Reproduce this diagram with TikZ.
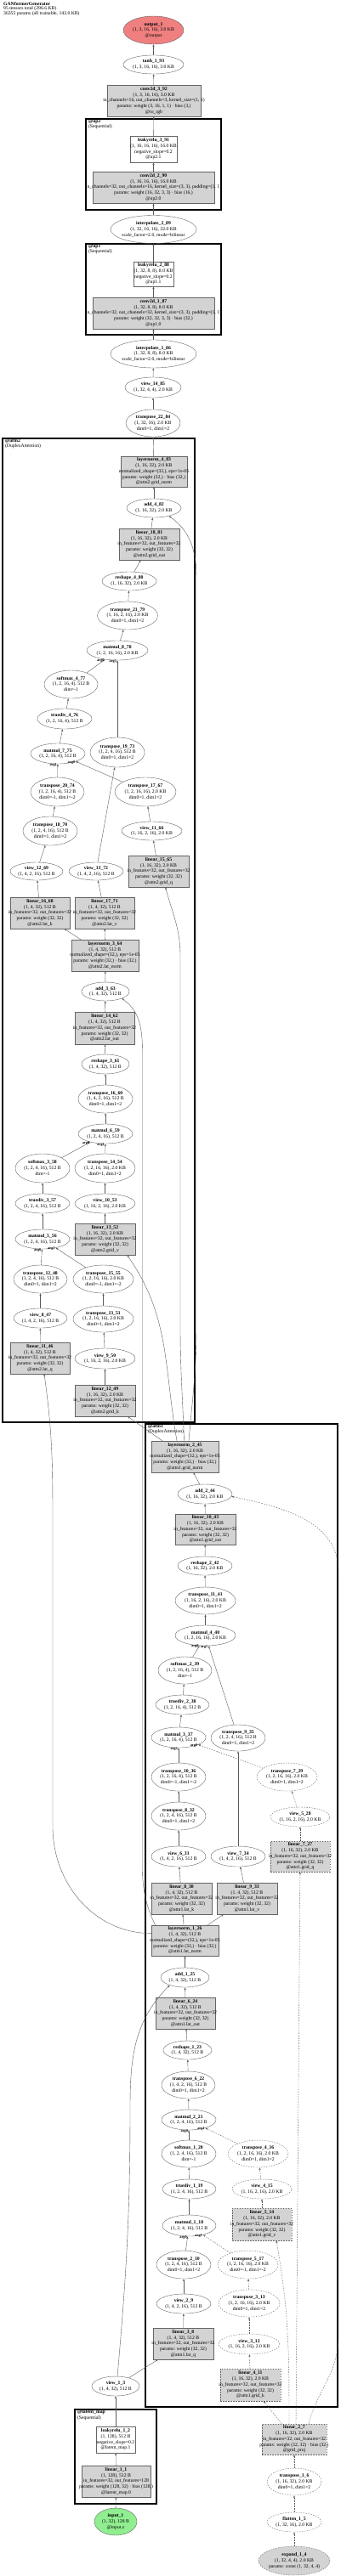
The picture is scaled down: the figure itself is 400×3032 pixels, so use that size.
\documentclass[tikz,border=0pt]{standalone}
\usepackage{fontspec}
\setmainfont{Liberation Serif}
\usetikzlibrary{arrows.meta,shapes.geometric,positioning}
\definecolor{nodegray}{RGB}{211,211,211}
\definecolor{linegray}{RGB}{100,100,100}
\definecolor{edgegray}{RGB}{90,90,90}
\definecolor{outred}{RGB}{240,128,128}
\definecolor{ingreen}{RGB}{144,238,144}
\newcommand{\nodetext}[2]{\makebox[0pt]{\begin{tabular}{@{}c@{}}\textbf{#1}\\#2\end{tabular}}}
\tikzset{
  every node/.style={font=\fontsize{5.7}{6.7}\selectfont, inner sep=0pt},
  sz/.style 2 args={minimum width=#1pt, minimum height=#2pt},
  op/.style={ellipse, draw=linegray, line width=0.4pt},
  mod/.style={rectangle, draw=linegray, fill=nodegray, line width=0.4pt},
  fn/.style={rectangle, draw=linegray, fill=white, line width=0.4pt},
  cst/.style={dash pattern=on 1.5pt off 1.5pt},
  grp/.style={rectangle, draw=black, line width=1.4pt},
  grplbl/.style={anchor=north west, align=left, font=\fontsize{5.7}{5}\selectfont},
  edge/.style={draw=edgegray, line width=0.4pt, -{Stealth[length=3pt,width=2.2pt]}},
  arg/.style={at end, anchor=east, xshift=-0.8pt, yshift=-1pt, font=\fontsize{4.3}{4.3}\selectfont\bfseries},
}
\begin{document}
\begin{tikzpicture}[x=1pt, y=-1pt]
  \useasboundingbox (0,0) rectangle (400,3032);
  \node[grplbl] (title) at (4,2.5) {\textbf{GANformerGenerator}\\95 tensors total (296.6 KB)\\36355 params (all trainable, 142.0 KB)};

  % Module groups
  \node[grp, sz={159}{107}] (up2) at (180.5,193.5) {};
  \node[grp, sz={159}{107}] (up1) at (180.5,340.5) {};
  \node[grp, sz={226}{1158}] (attn2) at (116,1095) {};
  \node[grp, sz={226}{1157}] (attn1) at (284,2254.5) {};
  \node[grp, sz={96}{111}] (latmap) at (136,2891.5) {};
  \node[grplbl] (up2lbl) at ([shift={(3.5pt,-1.5pt)}]up2.north west) {\textbf{@up2}\\(Sequential)};
  \node[grplbl] (up1lbl) at ([shift={(3.5pt,-1.5pt)}]up1.north west) {\textbf{@up1}\\(Sequential)};
  \node[grplbl] (attn2lbl) at ([shift={(3.5pt,-1.5pt)}]attn2.north west) {\textbf{@attn2}\\(DuplexAttention)};
  \node[grplbl] (attn1lbl) at ([shift={(3.5pt,-1.5pt)}]attn1.north west) {\textbf{@attn1}\\(DuplexAttention)};
  \node[grplbl] (latmaplbl) at ([shift={(3.5pt,-1.5pt)}]latmap.north west) {\textbf{@latent\_map}\\(Sequential)};

  % Output head and upsampling
  \node[op, fill=outred, sz={71}{33}] (out1) at (180.5,35.5) {\nodetext{output\_1}{(1, 3, 16, 16), 3.0 KB\\@output}};
  \node[op, sz={71}{22}] (tanh93) at (180.5,76) {\nodetext{tanh\_1\_93}{(1, 3, 16, 16), 3.0 KB}};
  \node[mod, sz={110}{37}] (conv92) at (181,118.5) {\nodetext{conv2d\_3\_92}{(1, 3, 16, 16), 3.0 KB\\in\_channels=16, out\_channels=3, kernel\_size=(1, 1)\\params: weight (3, 16, 1, 1) · bias (3,)\\@to\_rgb}};
  \node[fn, sz={55}{31}] (lrelu91) at (180.5,175.5) {\nodetext{leakyrelu\_3\_91}{(1, 16, 16, 16), 16.0 KB\\negative\_slope=0.2\\@up2.1}};
  \node[mod, sz={143}{37}] (conv90) at (180.5,220.5) {\nodetext{conv2d\_2\_90}{(1, 16, 16, 16), 16.0 KB\\in\_channels=32, out\_channels=16, kernel\_size=(3, 3), padding=(1, 1)\\params: weight (16, 32, 3, 3) · bias (16,)\\@up2.0}};
  \node[op, sz={101}{33}] (interp89) at (180.5,270) {\nodetext{interpolate\_2\_89}{(1, 32, 16, 16), 32.0 KB\\scale\_factor=2.0, mode=bilinear}};
  \node[fn, sz={47}{29}] (lrelu88) at (180.5,322.5) {\nodetext{leakyrelu\_2\_88}{(1, 32, 8, 8), 8.0 KB\\negative\_slope=0.2\\@up1.1}};
  \node[mod, sz={143}{37}] (conv87) at (180.5,368.5) {\nodetext{conv2d\_1\_87}{(1, 32, 8, 8), 8.0 KB\\in\_channels=32, out\_channels=32, kernel\_size=(3, 3), padding=(1, 1)\\params: weight (32, 32, 3, 3) · bias (32,)\\@up1.0}};
  \node[op, sz={101}{33}] (interp86) at (180.5,416.5) {\nodetext{interpolate\_1\_86}{(1, 32, 8, 8), 8.0 KB\\scale\_factor=2.0, mode=bilinear}};
  \node[op, sz={66}{24}] (view85) at (180,456) {\nodetext{view\_14\_85}{(1, 32, 4, 4), 2.0 KB}};
  \node[op, sz={64}{32}] (tr84) at (180,498) {\nodetext{transpose\_22\_84}{(1, 32, 16), 2.0 KB\\dim0=1, dim1=2}};

  % attn2
  \node[mod, sz={78}{36}] (ln83) at (181,555) {\nodetext{layernorm\_4\_83}{(1, 16, 32), 2.0 KB\\normalized\_shape=(32,), eps=1e-05\\params: weight (32,) · bias (32,)\\@attn2.grid\_norm}};
  \node[op, sz={64}{22}] (add82) at (181,598) {\nodetext{add\_4\_82}{(1, 16, 32), 2.0 KB}};
  \node[mod, sz={71}{37}] (lin81) at (175.5,640.5) {\nodetext{linear\_18\_81}{(1, 16, 32), 2.0 KB\\in\_features=32, out\_features=32\\params: weight (32, 32)\\@attn2.grid\_out}};
  \node[op, sz={64}{22}] (resh80) at (152,684) {\nodetext{reshape\_4\_80}{(1, 16, 32), 2.0 KB}};
  \node[op, sz={71}{33}] (tr79) at (150,724.5) {\nodetext{transpose\_21\_79}{(1, 16, 2, 16), 2.0 KB\\dim0=1, dim1=2}};
  \node[op, sz={72}{23}] (mm78) at (138,765.5) {\nodetext{matmul\_8\_78}{(1, 2, 16, 16), 2.0 KB}};
  \node[op, sz={63}{33}] (smax77) at (83.5,805.5) {\nodetext{softmax\_4\_77}{(1, 2, 16, 4), 512 B\\dim=-1}};
  \node[op, sz={64}{24}] (div76) at (76,846) {\nodetext{truediv\_4\_76}{(1, 2, 16, 4), 512 B}};
  \node[op, sz={64}{24}] (mm75) at (68,887) {\nodetext{matmul\_7\_75}{(1, 2, 16, 4), 512 B}};
  \node[op, sz={64}{35}] (tr73) at (138,885.5) {\nodetext{transpose\_19\_73}{(1, 2, 4, 16), 512 B\\dim0=1, dim1=2}};
  \node[op, sz={63}{34}] (tr74) at (67.5,932) {\nodetext{transpose\_20\_74}{(1, 2, 16, 4), 512 B\\dim0=-1, dim1=-2}};
  \node[op, sz={72}{34}] (tr67) at (171,932) {\nodetext{transpose\_17\_67}{(1, 2, 16, 16), 2.0 KB\\dim0=1, dim1=2}};
  \node[op, sz={64}{34}] (tr70) at (59,978) {\nodetext{transpose\_18\_70}{(1, 2, 4, 16), 512 B\\dim0=1, dim1=2}};
  \node[op, sz={71}{22}] (view66) at (178.5,978) {\nodetext{view\_11\_66}{(1, 16, 2, 16), 2.0 KB}};
  \node[mod, sz={71}{37}] (lin65) at (186.5,1025.5) {\nodetext{linear\_15\_65}{(1, 16, 32), 2.0 KB\\in\_features=32, out\_features=32\\params: weight (32, 32)\\@attn2.grid\_q}};
  \node[op, sz={62}{21}] (view69) at (43,1025.5) {\nodetext{view\_12\_69}{(1, 4, 2, 16), 512 B}};
  \node[op, sz={64}{21}] (view72) at (113,1025.5) {\nodetext{view\_13\_72}{(1, 4, 2, 16), 512 B}};
  \node[mod, sz={70}{37}] (lin68) at (47,1074.5) {\nodetext{linear\_16\_68}{(1, 4, 32), 512 B\\in\_features=32, out\_features=32\\params: weight (32, 32)\\@attn2.lat\_k}};
  \node[mod, sz={70}{37}] (lin71) at (123,1074.5) {\nodetext{linear\_17\_71}{(1, 4, 32), 512 B\\in\_features=32, out\_features=32\\params: weight (32, 32)\\@attn2.lat\_v}};
  \node[mod, sz={79}{37}] (ln64) at (123.5,1124.5) {\nodetext{layernorm\_3\_64}{(1, 4, 32), 512 B\\normalized\_shape=(32,), eps=1e-05\\params: weight (32,) · bias (32,)\\@attn2.lat\_norm}};
  \node[op, sz={56}{22}] (add63) at (124,1167) {\nodetext{add\_3\_63}{(1, 4, 32), 512 B}};
  \node[mod, sz={70}{38}] (lin62) at (123,1210) {\nodetext{linear\_14\_62}{(1, 4, 32), 512 B\\in\_features=32, out\_features=32\\params: weight (32, 32)\\@attn2.lat\_out}};
  \node[op, sz={56}{23}] (resh61) at (124,1252.5) {\nodetext{reshape\_3\_61}{(1, 4, 32), 512 B}};
  \node[op, sz={64}{33}] (tr60) at (124,1293.5) {\nodetext{transpose\_16\_60}{(1, 4, 2, 16), 512 B\\dim0=1, dim1=2}};
  \node[op, sz={64}{23}] (mm59) at (124,1334.5) {\nodetext{matmul\_6\_59}{(1, 2, 4, 16), 512 B}};
  \node[op, sz={64}{34}] (smax58) at (50,1375) {\nodetext{softmax\_3\_58}{(1, 2, 4, 16), 512 B\\dim=-1}};
  \node[op, sz={71}{34}] (tr54) at (123.5,1375) {\nodetext{transpose\_14\_54}{(1, 2, 16, 16), 2.0 KB\\dim0=1, dim1=2}};
  \node[op, sz={64}{23}] (div57) at (50,1416.5) {\nodetext{truediv\_3\_57}{(1, 2, 4, 16), 512 B}};
  \node[op, sz={71}{23}] (view53) at (123.5,1416.5) {\nodetext{view\_10\_53}{(1, 16, 2, 16), 2.0 KB}};
  \node[op, sz={64}{23}] (mm56) at (50,1458.5) {\nodetext{matmul\_5\_56}{(1, 2, 4, 16), 512 B}};
  \node[mod, sz={71}{37}] (lin52) at (123.5,1458.5) {\nodetext{linear\_13\_52}{(1, 16, 32), 2.0 KB\\in\_features=32, out\_features=32\\params: weight (32, 32)\\@attn2.grid\_v}};
  \node[op, sz={63}{33}] (tr48) at (47.5,1505.5) {\nodetext{transpose\_12\_48}{(1, 2, 4, 16), 512 B\\dim0=1, dim1=2}};
  \node[op, sz={71}{33}] (tr55) at (121.5,1505.5) {\nodetext{transpose\_15\_55}{(1, 2, 16, 16), 2.0 KB\\dim0=-1, dim1=-2}};
  \node[op, sz={63}{23}] (view47) at (47.5,1551.5) {\nodetext{view\_8\_47}{(1, 4, 2, 16), 512 B}};
  \node[op, sz={71}{31}] (tr51) at (121.5,1552.5) {\nodetext{transpose\_13\_51}{(1, 2, 16, 16), 2.0 KB\\dim0=1, dim1=2}};
  \node[mod, sz={70}{37}] (lin46) at (47,1598.5) {\nodetext{linear\_11\_46}{(1, 4, 32), 512 B\\in\_features=32, out\_features=32\\params: weight (32, 32)\\@attn2.lat\_q}};
  \node[op, sz={71}{24}] (view50) at (123.5,1599) {\nodetext{view\_9\_50}{(1, 16, 2, 16), 2.0 KB}};
  \node[mod, sz={71}{37}] (lin49) at (123.5,1648.5) {\nodetext{linear\_12\_49}{(1, 16, 32), 2.0 KB\\in\_features=32, out\_features=32\\params: weight (32, 32)\\@attn2.grid\_k}};

  % attn1
  \node[mod, sz={79}{37}] (ln45) at (217.5,1714.5) {\nodetext{layernorm\_2\_45}{(1, 16, 32), 2.0 KB\\normalized\_shape=(32,), eps=1e-05\\params: weight (32,) · bias (32,)\\@attn1.grid\_norm}};
  \node[op, sz={64}{23}] (add44) at (241,1758.5) {\nodetext{add\_2\_44}{(1, 16, 32), 2.0 KB}};
  \node[mod, sz={71}{36}] (lin43) at (241.5,1800) {\nodetext{linear\_10\_43}{(1, 16, 32), 2.0 KB\\in\_features=32, out\_features=32\\params: weight (32, 32)\\@attn1.grid\_out}};
  \node[op, sz={64}{22}] (resh42) at (241,1843) {\nodetext{reshape\_2\_42}{(1, 16, 32), 2.0 KB}};
  \node[op, sz={71}{32}] (tr41) at (241.5,1884) {\nodetext{transpose\_11\_41}{(1, 16, 2, 16), 2.0 KB\\dim0=1, dim1=2}};
  \node[op, sz={71}{24}] (mm40) at (241.5,1925) {\nodetext{matmul\_4\_40}{(1, 2, 16, 16), 2.0 KB}};
  \node[op, sz={63}{32}] (smax39) at (217.5,1966) {\nodetext{softmax\_2\_39}{(1, 2, 16, 4), 512 B\\dim=-1}};
  \node[op, sz={63}{23}] (div38) at (214.5,2006.5) {\nodetext{truediv\_2\_38}{(1, 2, 16, 4), 512 B}};
  \node[op, sz={64}{24}] (mm37) at (210,2045) {\nodetext{matmul\_3\_37}{(1, 2, 16, 4), 512 B}};
  \node[op, sz={64}{31}] (tr35) at (280,2045.5) {\nodetext{transpose\_9\_35}{(1, 2, 4, 16), 512 B\\dim0=1, dim1=2}};
  \node[op, sz={64}{33}] (tr36) at (210,2091.5) {\nodetext{transpose\_10\_36}{(1, 2, 16, 4), 512 B\\dim0=-1, dim1=-2}};
  \node[op, cst, sz={71}{33}] (tr29) at (337.5,2091.5) {\nodetext{transpose\_7\_29}{(1, 2, 16, 16), 2.0 KB\\dim0=1, dim1=2}};
  \node[op, sz={64}{33}] (tr32) at (210,2137.5) {\nodetext{transpose\_8\_32}{(1, 2, 4, 16), 512 B\\dim0=1, dim1=2}};
  \node[op, cst, sz={70}{23}] (view28) at (353,2138.5) {\nodetext{view\_5\_28}{(1, 16, 2, 16), 2.0 KB}};
  \node[op, sz={64}{24}] (view31) at (210,2185) {\nodetext{view\_6\_31}{(1, 4, 2, 16), 512 B}};
  \node[op, sz={64}{24}] (view34) at (280,2185) {\nodetext{view\_7\_34}{(1, 4, 2, 16), 512 B}};
  \node[mod, cst, sz={70}{36}] (lin27) at (353,2185) {\nodetext{linear\_7\_27}{(1, 16, 32), 2.0 KB\\in\_features=32, out\_features=32\\params: weight (32, 32)\\@attn1.grid\_q}};
  \node[mod, sz={71}{37}] (lin30) at (213.5,2234.5) {\nodetext{linear\_8\_30}{(1, 4, 32), 512 B\\in\_features=32, out\_features=32\\params: weight (32, 32)\\@attn1.lat\_k}};
  \node[mod, sz={71}{37}] (lin33) at (290.5,2234.5) {\nodetext{linear\_9\_33}{(1, 4, 32), 512 B\\in\_features=32, out\_features=32\\params: weight (32, 32)\\@attn1.lat\_v}};
  \node[mod, sz={79}{36}] (ln26) at (217.5,2284) {\nodetext{layernorm\_1\_26}{(1, 4, 32), 512 B\\normalized\_shape=(32,), eps=1e-05\\params: weight (32,) · bias (32,)\\@attn1.lat\_norm}};
  \node[op, sz={57}{23}] (add25) at (217.5,2327.5) {\nodetext{add\_1\_25}{(1, 4, 32), 512 B}};
  \node[mod, sz={70}{37}] (lin24) at (218,2369.5) {\nodetext{linear\_6\_24}{(1, 4, 32), 512 B\\in\_features=32, out\_features=32\\params: weight (32, 32)\\@attn1.lat\_out}};
  \node[op, sz={57}{22}] (resh23) at (220.5,2413) {\nodetext{reshape\_1\_23}{(1, 4, 32), 512 B}};
  \node[op, sz={63}{32}] (tr22) at (221.5,2454) {\nodetext{transpose\_6\_22}{(1, 4, 2, 16), 512 B\\dim0=1, dim1=2}};
  \node[op, sz={64}{24}] (mm21) at (222,2495) {\nodetext{matmul\_2\_21}{(1, 2, 4, 16), 512 B}};
  \node[op, sz={64}{32}] (smax20) at (222,2535) {\nodetext{softmax\_1\_20}{(1, 2, 4, 16), 512 B\\dim=-1}};
  \node[op, cst, sz={71}{32}] (tr16) at (303.5,2535) {\nodetext{transpose\_4\_16}{(1, 2, 16, 16), 2.0 KB\\dim0=1, dim1=2}};
  \node[op, sz={63}{23}] (div19) at (222.5,2576.5) {\nodetext{truediv\_1\_19}{(1, 2, 4, 16), 512 B}};
  \node[op, cst, sz={70}{23}] (view15) at (308,2576.5) {\nodetext{view\_4\_15}{(1, 16, 2, 16), 2.0 KB}};
  \node[op, sz={63}{25}] (mm18) at (222.5,2619.5) {\nodetext{matmul\_1\_18}{(1, 2, 4, 16), 512 B}};
  \node[mod, cst, sz={70}{38}] (lin14) at (308,2618) {\nodetext{linear\_5\_14}{(1, 16, 32), 2.0 KB\\in\_features=32, out\_features=32\\params: weight (32, 32)\\@attn1.grid\_v}};
  \node[op, sz={64}{33}] (tr10) at (216,2665.5) {\nodetext{transpose\_2\_10}{(1, 2, 4, 16), 512 B\\dim0=1, dim1=2}};
  \node[op, cst, sz={71}{33}] (tr17) at (291.5,2665.5) {\nodetext{transpose\_5\_17}{(1, 2, 16, 16), 2.0 KB\\dim0=-1, dim1=-2}};
  \node[op, sz={64}{23}] (view9) at (216,2711.5) {\nodetext{view\_2\_9}{(1, 4, 2, 16), 512 B}};
  \node[op, cst, sz={72}{32}] (tr13) at (293,2711) {\nodetext{transpose\_3\_13}{(1, 2, 16, 16), 2.0 KB\\dim0=1, dim1=2}};
  \node[mod, sz={71}{37}] (lin8) at (215.5,2758.5) {\nodetext{linear\_3\_8}{(1, 4, 32), 512 B\\in\_features=32, out\_features=32\\params: weight (32, 32)\\@attn1.lat\_q}};
  \node[op, cst, sz={72}{24}] (view12) at (293,2759) {\nodetext{view\_3\_12}{(1, 16, 2, 16), 2.0 KB}};
  \node[mod, cst, sz={71}{38}] (lin11) at (294.5,2807) {\nodetext{linear\_4\_11}{(1, 16, 32), 2.0 KB\\in\_features=32, out\_features=32\\params: weight (32, 32)\\@attn1.grid\_k}};

  % Inputs: latent map and constant grid
  \node[op, sz={56}{23}] (view3) at (136,2808.5) {\nodetext{view\_1\_3}{(1, 4, 32), 512 B}};
  \node[fn, sz={46}{31}] (lrelu2) at (136,2871.5) {\nodetext{leakyrelu\_1\_2}{(1, 128), 512 B\\negative\_slope=0.2\\@latent\_map.1}};
  \node[mod, sz={81}{37}] (lin1) at (136.5,2920.5) {\nodetext{linear\_1\_1}{(1, 128), 512 B\\in\_features=32, out\_features=128\\params: weight (128, 32) · bias (128,)\\@latent\_map.0}};
  \node[op, fill=ingreen, sz={50}{32}] (in1) at (136,2968) {\nodetext{input\_1}{(1, 32), 128 B\\@input.z}};
  \node[mod, cst, sz={76}{36}] (lin7) at (346,2871) {\nodetext{linear\_2\_7}{(1, 16, 32), 2.0 KB\\in\_features=32, out\_features=32\\params: weight (32, 32) · bias (32,)\\@grid\_proj}};
  \node[op, cst, sz={64}{32}] (tr6) at (346,2921) {\nodetext{transpose\_1\_6}{(1, 16, 32), 2.0 KB\\dim0=1, dim1=2}};
  \node[op, cst, sz={64}{23}] (flat5) at (346,2968.5) {\nodetext{flatten\_1\_5}{(1, 32, 16), 2.0 KB}};
  \node[op, cst, fill=nodegray, sz={84}{34}] (exp4) at (346,3014) {\nodetext{expand\_1\_4}{(1, 32, 4, 4), 2.0 KB\\params: const (1, 32, 4, 4)}};

  % Main chain
  \draw[edge] (tanh93) -- (out1);
  \draw[edge] (conv92) -- (tanh93);
  \draw[edge] (lrelu91) -- (conv92);
  \draw[edge] (conv90) -- (lrelu91);
  \draw[edge] (interp89) -- (conv90);
  \draw[edge] (lrelu88) -- (interp89);
  \draw[edge] (conv87) -- (lrelu88);
  \draw[edge] (interp86) -- (conv87);
  \draw[edge] (view85) -- (interp86);
  \draw[edge] (tr84) -- (view85);
  \draw[edge] (ln83) -- (tr84);

  % attn2 edges
  \draw[edge] (add82) -- (ln83);
  \draw[edge] (lin81) -- (add82);
  \draw[edge] (resh80) -- (lin81);
  \draw[edge] (tr79) -- (resh80);
  \draw[edge] (mm78) -- (tr79);
  \draw[edge] (smax77) -- (mm78) node[arg] {arg0};
  \draw[edge] (tr73) -- (mm78) node[arg] {arg1};
  \draw[edge] (div76) -- (smax77);
  \draw[edge] (mm75) -- (div76);
  \draw[edge] (tr67) -- (mm75) node[arg] {arg0};
  \draw[edge] (tr74) -- (mm75) node[arg] {arg1};
  \draw[edge] (view72) -- (tr73);
  \draw[edge] (tr70) -- (tr74);
  \draw[edge] (view66) -- (tr67);
  \draw[edge] (lin65) -- (view66);
  \draw[edge] (view69) -- (tr70);
  \draw[edge] (lin68) -- (view69);
  \draw[edge] (lin71) -- (view72);
  \draw[edge] (ln64) -- (lin68);
  \draw[edge] (ln64) -- (lin71);
  \draw[edge] (add63) -- (ln64);
  \draw[edge] (lin62) -- (add63);
  \draw[edge] (resh61) -- (lin62);
  \draw[edge] (tr60) -- (resh61);
  \draw[edge] (mm59) -- (tr60);
  \draw[edge] (smax58) -- (mm59) node[arg] {arg0};
  \draw[edge] (tr54) -- (mm59) node[arg] {arg1};
  \draw[edge] (div57) -- (smax58);
  \draw[edge] (view53) -- (tr54);
  \draw[edge] (mm56) -- (div57);
  \draw[edge] (lin52) -- (view53);
  \draw[edge] (tr48) -- (mm56) node[arg] {arg0};
  \draw[edge] (tr55) -- (mm56) node[arg] {arg1};
  \draw[edge] (view47) -- (tr48);
  \draw[edge] (tr51) -- (tr55);
  \draw[edge] (lin46) -- (view47);
  \draw[edge] (view50) -- (tr51);
  \draw[edge] (lin49) -- (view50);

  % attn1 edges
  \draw[edge] (add44) -- (ln45);
  \draw[edge] (lin43) -- (add44);
  \draw[edge] (resh42) -- (lin43);
  \draw[edge] (tr41) -- (resh42);
  \draw[edge] (mm40) -- (tr41);
  \draw[edge] (smax39) -- (mm40) node[arg] {arg0};
  \draw[edge] (tr35) -- (mm40) node[arg] {arg1};
  \draw[edge] (div38) -- (smax39);
  \draw[edge] (mm37) -- (div38);
  \draw[edge] (tr36) -- (mm37) node[arg] {arg1};
  \draw[edge, cst] (tr29) -- (mm37) node[arg] {arg0};
  \draw[edge] (view34) -- (tr35);
  \draw[edge] (tr32) -- (tr36);
  \draw[edge, cst] (view28) -- (tr29);
  \draw[edge] (view31) -- (tr32);
  \draw[edge, cst] (lin27) -- (view28);
  \draw[edge] (lin30) -- (view31);
  \draw[edge] (lin33) -- (view34);
  \draw[edge] (ln26) -- (lin30);
  \draw[edge] (ln26) -- (lin33);
  \draw[edge] (add25) -- (ln26);
  \draw[edge] (lin24) -- (add25);
  \draw[edge] (resh23) -- (lin24);
  \draw[edge] (tr22) -- (resh23);
  \draw[edge] (mm21) -- (tr22);
  \draw[edge] (smax20) -- (mm21) node[arg] {arg0};
  \draw[edge, cst] (tr16) -- (mm21) node[arg] {arg1};
  \draw[edge] (div19) -- (smax20);
  \draw[edge, cst] (view15) -- (tr16);
  \draw[edge] (mm18) -- (div19);
  \draw[edge, cst] (lin14) -- (view15);
  \draw[edge] (tr10) -- (mm18) node[arg] {arg0};
  \draw[edge, cst] (tr17) -- (mm18) node[arg] {arg1};
  \draw[edge] (view9) -- (tr10);
  \draw[edge, cst] (tr13) -- (tr17);
  \draw[edge] (lin8) -- (view9);
  \draw[edge, cst] (view12) -- (tr13);
  \draw[edge, cst] (lin11) -- (view12);

  % inputs
  \draw[edge] (view3) -- (lin8);
  \draw[edge] (lrelu2) -- (view3);
  \draw[edge] (lin1) -- (lrelu2);
  \draw[edge] (in1) -- (lin1);
  \draw[edge, cst] (exp4) -- (flat5);
  \draw[edge, cst] (flat5) -- (tr6);
  \draw[edge, cst] (tr6) -- (lin7);
  \draw[edge, cst] (lin7) -- (lin11);
  \draw[edge, cst] ([xshift=2pt]lin7.north) -- (lin27);
  \draw[edge, cst] ([xshift=-6pt]lin7.north) to[out=90,in=-80] ([xshift=17pt]lin14.south);

  % Residuals and links between blocks
  \draw[edge, cst] ([xshift=17pt]lin7.north) to[out=75,in=-90] (398,2750) -- (398,1850) to[out=90,in=-12] (add44.-5);
  \draw[edge] (view3.80) to[out=85,in=-90] (153,2480) to[out=90,in=-135] (add25.-153);
  \draw[edge] (ln45) -- (lin49);
  \draw[edge] ([xshift=4.5pt]ln45.north) to[out=85,in=-90] (231,1560) -- (231,680) to[out=90,in=-35] (add82.-28);
  \draw[edge] ([xshift=-1pt]ln45.north) to[out=92,in=-90] (212,1560) -- (212,1125) to[out=90,in=-75] ([xshift=8pt]lin65.south);
  \draw[edge] ([xshift=-9.5pt]ln45.north) to[out=100,in=-55] ([xshift=26pt]lin52.south);
  \draw[edge] (ln26.168) to[out=180,in=-90] (62,2150) -- (62,1790) to[out=90,in=-82] ([xshift=5pt]lin46.south);
  \draw[edge] ([xshift=-35pt]ln26.north) .. controls (175,2250) and (167.5,2230) .. (167.5,2200) -- (167.5,1240) to[out=90,in=-35] (add63.-23);
\end{tikzpicture}
\end{document}
